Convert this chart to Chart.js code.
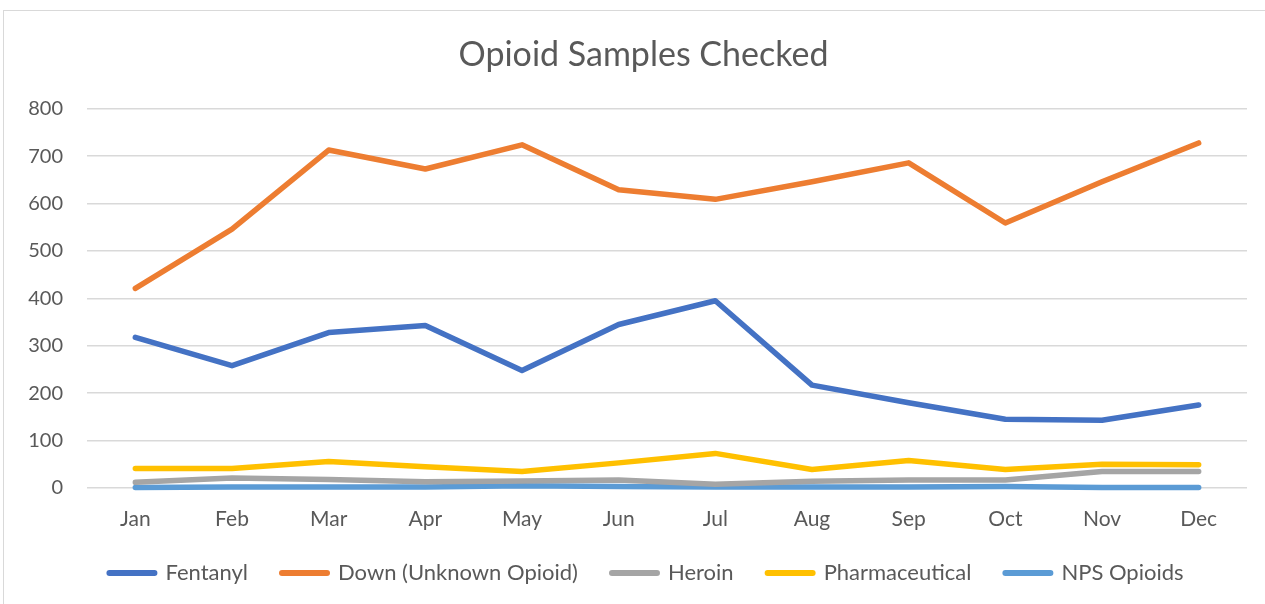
<!DOCTYPE html>
<html>
<head>
<meta charset="utf-8">
<script src="https://cdn.jsdelivr.net/npm/chart.js@4/dist/chart.umd.min.js"></script>
<style>
  html, body { margin: 0; padding: 0; background: #fff; }
  #frame {
    position: absolute; left: 3px; top: 10px; width: 1270px; height: 600px;
    border-left: 1px solid #d9d9d9; border-top: 1px solid #d9d9d9;
  }
  #wrap { position: absolute; left: 0; top: 0; width: 1265px; height: 604px; }
</style>
</head>
<body>
<div id="frame"></div>
<div id="wrap"><canvas id="opioidChart"></canvas></div>
<script>
// Monthly counts of opioid samples checked
const months = ['Jan', 'Feb', 'Mar', 'Apr', 'May', 'Jun', 'Jul', 'Aug', 'Sep', 'Oct', 'Nov', 'Dec'];
const fentanyl = [318, 258, 328, 343, 248, 345, 395, 217, 180, 145, 143, 175];
const downUnknown = [421, 546, 713, 673, 724, 629, 609, 646, 686, 559, 646, 728];
const heroin = [12, 21, 18, 13, 15, 17, 8, 14, 17, 17, 35, 35];
const pharmaceutical = [41, 41, 56, 45, 35, 53, 73, 39, 58, 39, 50, 49];
const npsOpioids = [1, 2, 2, 2, 5, 3, 2, 2, 2, 3, 1, 1];
const yTicks = [0, 100, 200, 300, 400, 500, 600, 700, 800];

const fontFamily = 'Lato, "Open Sans", sans-serif';
const textColor = '#595959';
const gridColor = '#d9d9d9';

function series(label, data, color) {
    return {
        label: label,
        data: data,
        borderColor: color,
        backgroundColor: color,
        borderWidth: 5.5,
        borderCapStyle: 'round',
        borderJoinStyle: 'round',
        pointRadius: 0,
        pointHoverRadius: 0,
        tension: 0,
        fill: false,
        clip: 8
    };
}

// title and legend sit centred on the whole frame, not on the padded area;
// month labels get a little more room below the axis
const layoutTweak = {
    id: 'layoutTweak',
    afterLayout(chart) {
        if (chart.titleBlock) { chart.titleBlock.left += 20; chart.titleBlock.right += 20; }
        if (chart.legend) { chart.legend.left += 23; chart.legend.right += 23; }
        chart.scales.x.bottom += 8;
    }
};

const ctx = document.getElementById('opioidChart').getContext('2d');
const opioidChart = new Chart(ctx, {
    type: 'line',
    data: {
        labels: months,
        datasets: [
            series('Fentanyl', fentanyl, '#4472C4'),
            series('Down (Unknown Opioid)', downUnknown, '#ED7D31'),
            series('Heroin', heroin, '#A5A5A5'),
            series('Pharmaceutical', pharmaceutical, '#FFC000'),
            series('NPS Opioids', npsOpioids, '#5B9BD5')
        ]
    },
    plugins: [layoutTweak],
    options: {
        responsive: true,
        maintainAspectRatio: false,
        animation: false,
        layout: { padding: { top: 22, right: 18, left: 0, bottom: 10 } },
        plugins: {
            title: {
                display: true,
                text: 'Opioid Samples Checked',
                color: textColor,
                font: { family: fontFamily, size: 34, weight: 'normal' },
                padding: { top: 13, bottom: 33 }
            },
            legend: {
                position: 'bottom',
                labels: {
                    usePointStyle: true,
                    pointStyle: 'line',
                    pointStyleWidth: 45,
                    padding: 34,
                    color: textColor,
                    font: { family: fontFamily, size: 22 },
                    generateLabels: (chart) => {
                        const items = Chart.defaults.plugins.legend.labels.generateLabels(chart);
                        items.forEach(item => { item.lineWidth = 6; item.lineCap = 'round'; });
                        return items;
                    }
                }
            },
            tooltip: { enabled: false }
        },
        scales: {
            x: {
                offset: true,
                afterFit: (scale) => { scale.height = 40; },
                grid: { display: false, drawTicks: false },
                border: { display: false },
                ticks: { color: textColor, padding: 19, font: { family: fontFamily, size: 21 } }
            },
            y: {
                min: 0,
                max: 800,
                afterBuildTicks: (scale) => {
                    scale.ticks = yTicks.map(v => ({ value: v }));
                },
                afterFit: (scale) => { scale.width = 87; },
                grid: { color: gridColor, lineWidth: 1.5, drawTicks: false },
                border: { display: false },
                ticks: { color: textColor, padding: 24, font: { family: fontFamily, size: 20 } }
            }
        }
    }
});
</script>
</body>
</html>
